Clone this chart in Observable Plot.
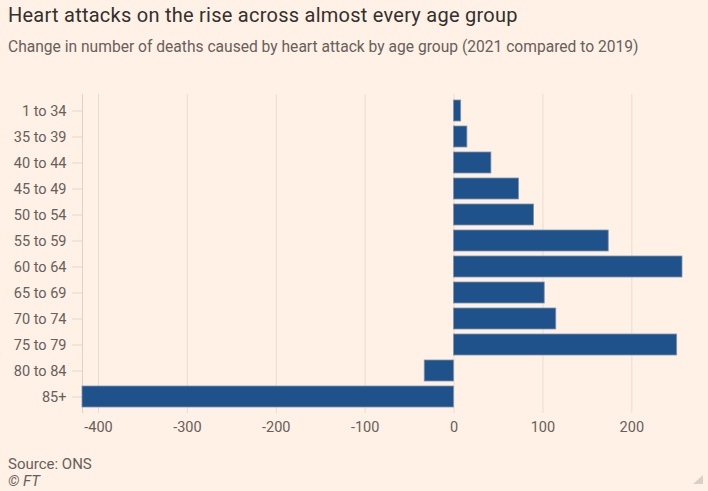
<!DOCTYPE html>
<html><head><meta charset="utf-8">
<script src="https://cdn.jsdelivr.net/npm/d3@7"></script>
<script src="https://cdn.jsdelivr.net/npm/@observablehq/plot@0.6"></script>
<style>
html,body{margin:0;padding:0;background:#fff1e5;width:708px;height:491px;overflow:hidden;position:relative;font-family:Roboto,sans-serif;}
.t{position:absolute;left:8px;white-space:nowrap;}
#title{top:5px;font-size:20px;line-height:20px;letter-spacing:0.25px;color:#33302e;}
#sub{top:40px;font-size:15.6px;line-height:15.6px;color:#66605c;}
#src{top:457px;font-size:15px;line-height:15px;color:#66605c;}
#ft{top:474px;font-size:15px;line-height:15px;color:#66605c;font-style:italic;}
#chart{position:absolute;left:0;top:64px;}
#corner{position:absolute;left:693px;top:475px;width:0;height:0;border-left:10px solid transparent;border-bottom:9px solid #d9d0c8;}
</style></head><body>
<div id="title" class="t">Heart attacks on the rise across almost every age group</div>
<div id="sub" class="t">Change in number of deaths caused by heart attack by age group (2021 compared to 2019)</div>
<div id="chart"></div>
<div id="src" class="t">Source: ONS</div>
<div id="ft" class="t">© FT</div>
<div id="corner"></div>
<script>
const ageGroups = ["1 to 34","35 to 39","40 to 44","45 to 49","50 to 54","55 to 59","60 to 64","65 to 69","70 to 74","75 to 79","80 to 84","85+"];
const changes = [8, 15, 42, 73, 90, 174, 257, 102, 115, 251, -33, -418];
const xTicks = [-400, -300, -200, -100, 0, 100, 200];
const xDomain = [-418, 257];

const data = ageGroups.map((g, i) => ({group: g, value: changes[i]}));

const chart = Plot.plot({
  width: 708,
  height: 380,
  marginTop: 30,
  marginBottom: 31,
  marginLeft: 82,
  marginRight: 26,
  style: {background: "transparent", fontFamily: "Roboto, sans-serif", fontSize: "14.5px", color: "#66605c"},
  x: {domain: xDomain},
  y: {domain: ageGroups, padding: 0.2},
  marks: [
    Plot.gridX(xTicks, {stroke: "#e8ddd3", strokeOpacity: 1}),
    Plot.ruleX([xDomain[0]], {stroke: "#ddd3ca"}),
    Plot.axisX({ticks: xTicks, tickSize: 0, tickPadding: 8, tickFormat: d => String(d), label: null, fill: "#66605c"}),
    Plot.axisY({tickSize: 10, tickPadding: 6, label: null, stroke: "#e3d9cf", fill: "#66605c"}),
    Plot.barX(data, {x: "value", y: "group", fill: "#1f528a", stroke: "#7f92aa", strokeWidth: 0.8})
  ]
});
document.getElementById("chart").appendChild(chart);
</script>
</body></html>
